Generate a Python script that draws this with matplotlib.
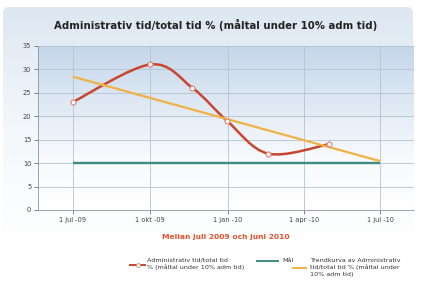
import numpy as np
import matplotlib
matplotlib.use("Agg")
import matplotlib.pyplot as plt
import matplotlib.dates as mdates
from matplotlib.path import Path
from matplotlib.patches import PathPatch, FancyBboxPatch
from matplotlib.lines import Line2D
from matplotlib.colors import LinearSegmentedColormap
import datetime as dt

# ---- data ----
title = "Administrativ tid/total tid % (måltal under 10% adm tid)"
xlabel = "Mellan juli 2009 och juni 2010"
series_label = "Administrativ tid/total tid\n% (måltal under 10% adm tid)"
goal_label = "Mål"
trend_label = "Trendkurva av Administrativ\ntid/total tid % (måltal under\n10% adm tid)"

dates = ["2009-07-01", "2009-10-01", "2009-11-20", "2009-12-31", "2010-02-18", "2010-05-01"]
values = [23, 31, 26, 19, 12, 14]
goal_dates = ["2009-07-01", "2010-07-01"]
goal_values = [10, 10]
trend_dates = ["2009-07-01", "2010-07-01"]
trend_values = [28.4, 10.4]
tick_dates = ["2009-07-01", "2009-10-01", "2010-01-01", "2010-04-01", "2010-07-01"]
tick_labels = ["1 jul -09", "1 okt -09", "1 jan -10", "1 apr -10", "1 jul -10"]
yticks = [0, 5, 10, 15, 20, 25, 30, 35]

def todt(s):
    return dt.datetime.strptime(s, "%Y-%m-%d")

fig = plt.figure(figsize=(4.24, 2.90), dpi=100)
fig.patch.set_facecolor("white")

# background panel with gradient
W, H = 424, 290
bg = fig.add_axes([0, 0, 1, 1], zorder=-10)
bg.set_xlim(0, W); bg.set_ylim(H, 0); bg.axis("off")
grad = np.linspace(0, 1, 256).reshape(-1, 1)
cm_panel = LinearSegmentedColormap.from_list("p", ["#dde7f2", "#f3f7fb", "#ffffff"])
im = bg.imshow(grad, cmap=cm_panel, extent=[3, 413, 244, 7], aspect="auto", zorder=0)
clip = FancyBboxPatch((3, 7), 410, 237, boxstyle="round,pad=0,rounding_size=6",
                      transform=bg.transData, facecolor="none", edgecolor="none")
bg.add_patch(clip)
im.set_clip_path(clip)

# main axes
x0, x1, y0, y1 = 38.3, 414, 45.7, 210
ax = fig.add_axes([x0 / W, 1 - y1 / H, (x1 - x0) / W, (y1 - y0) / H])
ax.set_facecolor("none")
cm_plot = LinearSegmentedColormap.from_list("a", ["#c4d6ea", "#dde8f3", "#f7f9fc", "#ffffff"])
xmin = mdates.date2num(todt("2009-05-21"))
xmax = mdates.date2num(todt("2010-08-10"))
ax.imshow(grad, cmap=cm_plot, extent=[xmin, xmax, 0, 35], aspect="auto", zorder=0,
          origin="upper")
ax.set_xlim(xmin, xmax)
ax.set_ylim(0, 35)

# grid
for t in tick_dates:
    ax.axvline(mdates.date2num(todt(t)), color="#b4c2d2", lw=0.6, zorder=1)
for y in yticks:
    ax.axhline(y, color="#b4c2d2", lw=0.6, zorder=1)

# goal
gx = [mdates.date2num(todt(d)) for d in goal_dates]
ax.plot(gx, goal_values, color="#3e8c84", lw=1.7, zorder=2, solid_capstyle="butt")

# smooth red series (Catmull-Rom rendered as bezier)
px = np.array([mdates.date2num(todt(d)) for d in dates])
py = np.array(values, dtype=float)
verts = [(px[0], py[0])]
codes = [Path.MOVETO]
n = len(px)
for i in range(n - 1):
    p0 = np.array([px[i - 1], py[i - 1]]) if i > 0 else np.array([px[i], py[i]])
    p1 = np.array([px[i], py[i]])
    p2 = np.array([px[i + 1], py[i + 1]])
    p3 = np.array([px[i + 2], py[i + 2]]) if i + 2 < n else p2
    c1 = p1 + (p2 - p0) / 6
    c2 = p2 - (p3 - p1) / 6
    verts += [tuple(c1), tuple(c2), tuple(p2)]
    codes += [Path.CURVE4] * 3
ax.add_patch(PathPatch(Path(verts, codes), facecolor="none", edgecolor="#c9452f",
                       lw=1.8, zorder=3))

# trend
tx = [mdates.date2num(todt(d)) for d in trend_dates]
ax.plot(tx, trend_values, color="#efb243", lw=1.6, zorder=4, solid_capstyle="butt")

ax.plot(px, py, linestyle="none", marker="o", ms=3.6, mfc="white", mec="#e08070",
        mew=0.8, zorder=5)

ax.set_xticks([mdates.date2num(todt(t)) for t in tick_dates])
ax.set_xticklabels(tick_labels)
ax.set_yticks(yticks)
ax.tick_params(axis="both", labelsize=4.8, colors="#555555", length=3, width=0.5,
               labelcolor="#444444", pad=2)
for s in ["top", "right"]:
    ax.spines[s].set_visible(False)
for s in ["left", "bottom"]:
    ax.spines[s].set_color("#8a96a3")
    ax.spines[s].set_linewidth(0.6)

fig.text(216 / W, 1 - 25 / H, title, ha="center", va="center", fontsize=7.3,
         fontweight="bold", color="#222222")
fig.text(226 / W, 1 - 237 / H, xlabel, ha="center", va="center", fontsize=5.4,
         fontweight="bold", color="#e0512c")

# legend
ls = 1.45
fig.add_artist(Line2D([130 / W, 145 / W], [1 - 265 / H] * 2, color="#c9452f", lw=1.4))
fig.add_artist(Line2D([137.5 / W], [1 - 265 / H], linestyle="none",
                      marker="o", ms=2.8, mfc="white", mec="#e08070", mew=0.6))
fig.text(147 / W, 1 - 257.5 / H, series_label, fontsize=4.6, color="#333333",
         va="top", ha="left", linespacing=ls)
fig.add_artist(Line2D([257 / W, 278 / W], [1 - 260.7 / H] * 2, color="#3e8c84", lw=1.4))
fig.text(282 / W, 1 - 257.5 / H, goal_label, fontsize=4.6, color="#333333",
         va="top", ha="left")
fig.add_artist(Line2D([293 / W, 306 / W], [1 - 268 / H] * 2, color="#efb243", lw=1.4))
fig.text(310 / W, 1 - 257.5 / H, trend_label, fontsize=4.6, color="#333333",
         va="top", ha="left", linespacing=ls)

fig.savefig("out.png", dpi=100)
